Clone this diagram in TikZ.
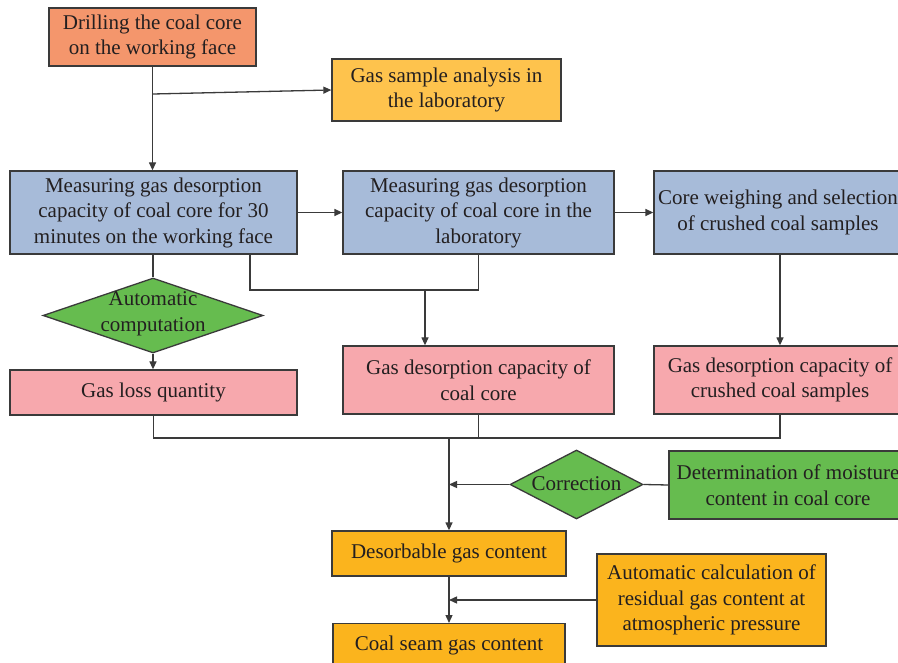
\documentclass[tikz,border=0pt]{standalone}
\usepackage{fontspec}
\setmainfont{Liberation Serif}
\usetikzlibrary{shapes.geometric,arrows.meta}
\definecolor{salmon}{HTML}{F4966C}
\definecolor{gsamp}{HTML}{FEC34D}
\definecolor{bluebox}{HTML}{A7BBD9}
\definecolor{greenbox}{HTML}{66BC4F}
\definecolor{pinkbox}{HTML}{F7A8AD}
\definecolor{orangebox}{HTML}{FBB41D}
\definecolor{txt}{HTML}{231F20}
\definecolor{edge}{HTML}{3A3A3A}
\tikzset{
  box/.style={draw=edge, line width=1.3pt, rectangle, inner sep=0pt, align=center, text=txt,
    font=\fontsize{21}{25.5}\selectfont},
  dia/.style={draw=edge, line width=1.3pt, diamond, inner sep=0pt},
  dtext/.style={align=center, text=txt, inner sep=0pt, font=\fontsize{21}{25.5}\selectfont},
  ln/.style={draw=edge, line width=1.3pt},
  arr/.style={ln, -{Triangle[length=8pt,width=7pt]}},
}
\begin{document}
\begin{tikzpicture}[x=1pt,y=-1pt]
\clip (0,0) rectangle (898,663);
\fill[white] (0,0) rectangle (898,663);
% boxes
\node[box, fill=salmon, minimum width=207pt, minimum height=58pt] (drill) at (152.5,37) {Drilling the coal core\\on the working face};
\node[box, fill=gsamp, minimum width=229pt, minimum height=62pt] (gas) at (446.5,90) {Gas sample analysis in\\the laboratory};
\node[box, fill=bluebox, minimum width=287pt, minimum height=83pt] (A) at (153.5,212.5) {Measuring gas desorption\\capacity of coal core for 30\\minutes on the working face};
\node[box, fill=bluebox, minimum width=271pt, minimum height=83pt] (B) at (478.5,212.5) {Measuring gas desorption\\capacity of coal core in the\\laboratory};
\node[box, fill=bluebox, minimum width=248pt, minimum height=83pt] (C) at (778,212.5) {Core weighing and selection\\of crushed coal samples};
\node[dia, fill=greenbox, minimum width=220pt, minimum height=75pt] (d1) at (153,315.5) {};
\node[dtext] (d1t) at (153,314) {Automatic\\computation};
\node[box, fill=pinkbox, minimum width=287pt, minimum height=45pt] (loss) at (153.5,392.5) {Gas loss quantity};
\node[box, fill=pinkbox, minimum width=271pt, minimum height=68pt] (pB) at (478.5,380) {Gas desorption capacity of\\coal core};
\node[box, fill=pinkbox, minimum width=252pt, minimum height=68pt] (pC) at (780,380) {Gas desorption capacity of\\crushed coal samples};
\node[dia, fill=greenbox, minimum width=133pt, minimum height=69pt] (d2) at (576.5,484.5) {};
\node[dtext] (d2t) at (576.5,484) {Correction};
\node[box, fill=greenbox, minimum width=238pt, minimum height=68pt] (moist) at (788,485) {Determination of moisture\\content in coal core};
\node[box, fill=orangebox, minimum width=234pt, minimum height=45pt] (des) at (449,553.5) {Desorbable gas content};
\node[box, fill=orangebox, minimum width=229pt, minimum height=92pt] (auto) at (711.5,600) {Automatic calculation of\\residual gas content at\\atmospheric pressure};
\node[box, fill=orangebox, minimum width=232pt, minimum height=44pt, anchor=north] (cs) at (449,623) {};
\node[dtext] (cst) at (449,645) {Coal seam gas content};
% coordinates
\coordinate (j1) at (153,94);
\coordinate (m1) at (250,290);
\coordinate (m2) at (425,290);
\coordinate (m3) at (449,438);
% connectors
\draw[arr] (drill.south) -- (drill.south |- A.north);
\draw[arr] (j1) -- (gas.west);
\draw[arr] (A.east) -- (B.west);
\draw[arr] (B.east) -- (C.west);
\draw[ln] (A.south -| d1.north) -- (d1.north);
\draw[arr] (d1.south) -- (loss.north -| d1.south);
\draw[ln] (A.south -| m1) |- (B.south |- m1) -- (B.south);
\draw[arr] (m2) -- (m2 |- pB.north);
\draw[arr] (C.south -| 780,0) -- (pC.north -| 780,0);
\draw[ln] (loss.south) |- (m3);
\draw[ln] (pB.south) |- (m3);
\draw[ln] (pC.south -| 780,0) |- (m3);
\draw[arr] (m3) -- (des.north);
\draw[ln] (moist.west) -- (d2.east);
\draw[arr] (d2.west) -- (m3 |- d2.west);
\draw[arr] (des.south) -- (cs.north);
\draw[arr] (auto.west) -- (des.south |- auto.west);
\end{tikzpicture}
\end{document}
